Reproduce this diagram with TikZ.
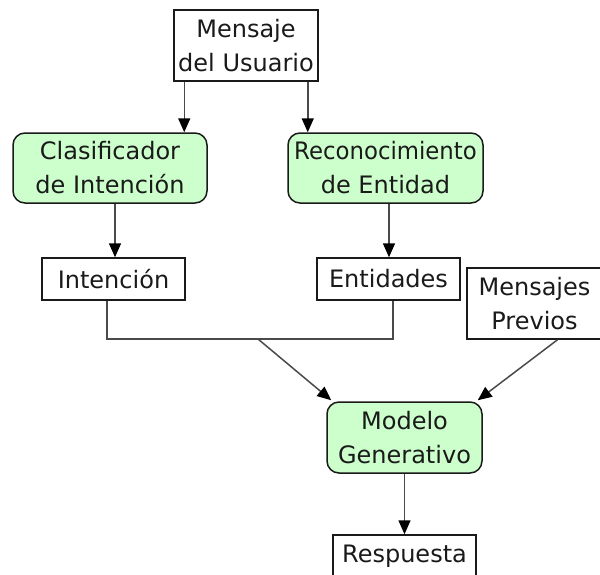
\documentclass[tikz,border=0pt]{standalone}
\usepackage{fontspec}
\setmainfont{DejaVu Sans}
\usetikzlibrary{arrows.meta}
\definecolor{procfill}{HTML}{CCFFCC}
\definecolor{ink}{HTML}{1A1A1A}
\definecolor{wire}{HTML}{4A4A4A}
\begin{document}
\begin{tikzpicture}[x=1pt,y=-1pt,
  box/.style={draw=ink, line width=1.5pt, fill=white, align=center, inner sep=0pt,
    text=ink, font=\fontsize{24}{34}\selectfont},
  proc/.style={box, fill=procfill, rounded corners=12pt},
  flow/.style={draw=wire, line width=1.5pt},
  arr/.style={flow, -{Triangle[length=14pt,width=12pt,color=black]}}]
  \useasboundingbox (0,0) rectangle (600,574);
  \clip (0,0) rectangle (600,574);

  % input message
  \node[box, minimum width=144pt, minimum height=71pt] (msg) at (246,45.5) {Mensaje\\del Usuario};

  % analysis stages
  \node[proc, minimum width=194pt, minimum height=70pt] (cls) at (110,168) {Clasificador\\de Intención};
  \node[proc, minimum width=195pt, minimum height=70pt] (ner) at (385.5,168) {\scalebox{0.95}[1]{Reconocimiento}\\de Entidad};

  % stage outputs
  \node[box, minimum width=143pt, minimum height=42pt] (int) at (113.5,279) {Intención};
  \node[box, minimum width=143pt, minimum height=42pt] (ent) at (388.5,279) {Entidades};
  \node[box, minimum width=135pt, minimum height=71pt] (prev) at (534.5,303.5) {Mensajes\\Previos};

  % generation
  \node[proc, minimum width=155pt, minimum height=71pt] (gen) at (404.5,437.5) {Modelo\\Generativo};
  \node[box, minimum width=143pt, minimum height=42pt] (resp) at (404.5,556) {Respuesta};

  % message feeds both analysers
  \draw[arr] ([xshift=11pt]msg.south west) -- ([xshift=11pt]msg.south west |- cls.north);
  \draw[arr] ([xshift=-11pt]msg.south east) -- ([xshift=-11pt]msg.south east |- ner.north);

  % analysers to outputs
  \draw[arr] ([xshift=5pt]cls.south) -- ([xshift=5pt]cls.south |- int.north);
  \draw[arr] ([xshift=3.5pt]ner.south) -- ([xshift=3.5pt]ner.south |- ent.north);

  % merge of intention and entities
  \coordinate (jl) at ([xshift=-6.5pt]int.south);
  \coordinate (jr) at ([xshift=4.5pt]ent.south);
  \coordinate (jm) at (258,339);
  \draw[flow] (jl) -- (jl |- jm) -- (jr |- jm) -- (jr);
  \draw[arr] (jm) -- ([xshift=5pt,yshift=1pt]gen.north west);

  % previous messages
  \draw[arr] ([xshift=23pt]prev.south) -- ([xshift=-5pt,yshift=1pt]gen.north east);

  % response
  \draw[arr] (gen.south) -- (resp.north);
\end{tikzpicture}
\end{document}
